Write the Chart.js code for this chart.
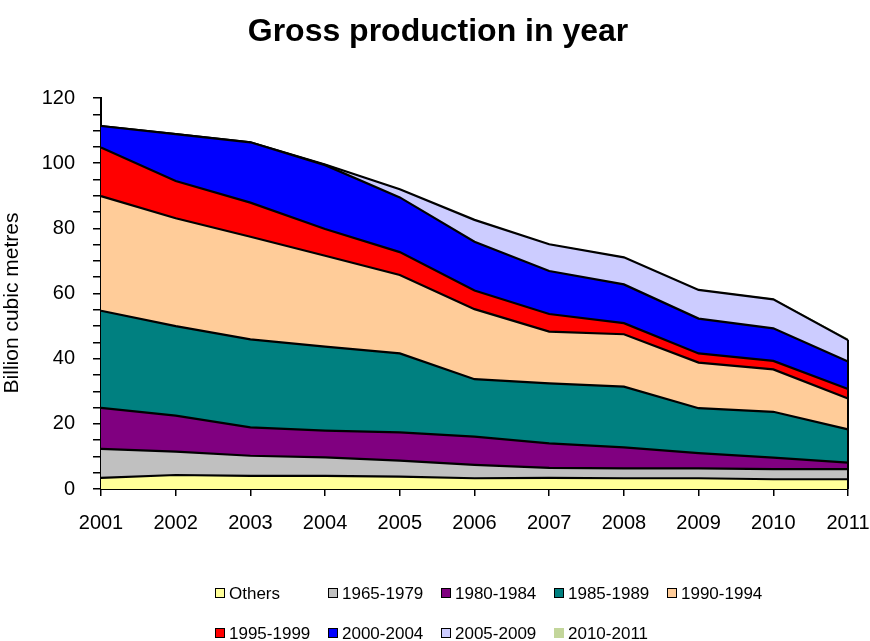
<!DOCTYPE html>
<html>
<head>
<meta charset="utf-8">
<script src="https://cdn.jsdelivr.net/npm/chart.js@4/dist/chart.umd.min.js"></script>
<style>
  body { margin: 0; background: #fff; }
  #wrap { width: 870px; height: 641px; position: relative; }
</style>
</head>
<body>
<div id="wrap"><canvas id="grafico"></canvas></div>
<script>
const anos = ["2001", "2002", "2003", "2004", "2005", "2006", "2007", "2008", "2009", "2010", "2011"];

// valores por faixa (empilhados)
const others   = [3.4, 4.3, 4.0, 4.0, 3.8, 3.3, 3.4, 3.3, 3.3, 3.0, 3.0];
const f1965_79 = [8.9, 7.2, 6.2, 5.7, 4.9, 4.1, 3.1, 3.0, 3.0, 3.1, 3.1];
const f1980_84 = [12.6, 11.0, 8.7, 8.2, 8.7, 8.7, 7.5, 6.5, 4.7, 3.5, 2.0];
const f1985_89 = [29.8, 27.5, 27.0, 25.8, 24.2, 17.6, 18.4, 18.6, 13.8, 14.1, 10.2];
const f1990_94 = [35.2, 33.1, 31.5, 27.9, 24.1, 21.5, 15.9, 16.1, 14.0, 13.0, 9.5];
const f1995_99 = [14.9, 11.4, 10.5, 8.2, 7.0, 5.7, 5.4, 3.4, 2.8, 2.6, 2.9];
const f2000_04 = [6.6, 14.4, 18.5, 19.6, 16.8, 15.0, 13.2, 11.9, 10.7, 10.0, 8.4];
const f2005_09 = [0, 0, 0, 0.2, 2.5, 6.7, 8.2, 8.3, 8.8, 8.9, 6.6];
const f2010_11 = [0, 0, 0, 0, 0, 0, 0, 0, 0, 0.1, 0.3];

const series = [
    { nome: "Others",    dados: others,   cor: "#FFFF99" },
    { nome: "1965-1979", dados: f1965_79, cor: "#C0C0C0" },
    { nome: "1980-1984", dados: f1980_84, cor: "#800080" },
    { nome: "1985-1989", dados: f1985_89, cor: "#008080" },
    { nome: "1990-1994", dados: f1990_94, cor: "#FFCC99" },
    { nome: "1995-1999", dados: f1995_99, cor: "#FF0000" },
    { nome: "2000-2004", dados: f2000_04, cor: "#0000FF" },
    { nome: "2005-2009", dados: f2005_09, cor: "#CCCCFF" },
    { nome: "2010-2011", dados: f2010_11, cor: "#C3D69B", semBorda: true }
];

const titulo = "Gross production in year";
const tituloEixo = "Billion cubic metres";
const fonte = "'Liberation Sans', Arial, sans-serif";

// titulo, legenda em grade, titulo do eixo y e borda direita da area
const extras = {
    id: "extras",
    afterDatasetsDraw(chart) {
        // contorno vertical no ultimo ano, como no Excel
        const ctx = chart.ctx;
        const ult = anos.length - 1;
        const total = series.slice(0, 8).reduce((s, se) => s + se.dados[ult], 0);
        const x = chart.scales.x.getPixelForValue(ult);
        ctx.save();
        ctx.strokeStyle = "#000";
        ctx.lineWidth = 2;
        ctx.beginPath();
        ctx.moveTo(x, chart.scales.y.getPixelForValue(0));
        ctx.lineTo(x, chart.scales.y.getPixelForValue(total));
        ctx.stroke();
        ctx.restore();
    },
    afterDraw(chart) {
        const ctx = chart.ctx;
        ctx.save();
        ctx.fillStyle = "#000";
        ctx.font = "bold 32px " + fonte;
        ctx.textAlign = "center";
        ctx.textBaseline = "middle";
        ctx.fillText(titulo, 438, 32);
        ctx.restore();

        ctx.save();
        ctx.fillStyle = "#000";
        ctx.font = "21px " + fonte;
        ctx.textAlign = "center";
        ctx.textBaseline = "middle";
        ctx.translate(12, 303);
        ctx.rotate(-Math.PI / 2);
        ctx.fillText(tituloEixo, 0, 0);
        ctx.restore();

        ctx.save();
        ctx.font = "17px " + fonte;
        ctx.textBaseline = "middle";
        series.forEach((s, i) => {
            const col = i < 5 ? i : i - 5;
            const lin = i < 5 ? 0 : 1;
            const x = 215 + col * 113;
            const y = lin === 0 ? 593 : 633;
            ctx.fillStyle = s.cor;
            ctx.fillRect(x, y - 5, 10, 10);
            if (!s.semBorda) {
                ctx.strokeStyle = "#000";
                ctx.lineWidth = 1;
                ctx.strokeRect(x + 0.5, y - 4.5, 9, 9);
            }
            ctx.fillStyle = "#000";
            ctx.fillText(s.nome, x + 14, y + 1);
        });
        ctx.restore();
    }
};

const datasets = series.map((s, i) => ({
    label: s.nome,
    data: s.dados,
    backgroundColor: s.cor,
    borderColor: s.semBorda ? "#8E9C74" : "#000",
    borderWidth: s.semBorda ? 1 : 2.2,
    pointRadius: 0,
    tension: 0,
    fill: i === 0 ? "origin" : "-1"
}));

new Chart(document.getElementById("grafico"), {
    type: "line",
    data: { labels: anos, datasets: datasets },
    options: {
        responsive: true,
        maintainAspectRatio: false,
        animation: false,
        layout: { padding: { left: 0, right: 0, top: 98, bottom: 0 } },
        plugins: {
            legend: { display: false },
            tooltip: { enabled: false },
            title: { display: false }
        },
        scales: {
            x: {
                offset: false,
                grid: { drawOnChartArea: false, drawTicks: true, tickLength: 7, color: "#000", lineWidth: 1.5 },
                border: { display: true, color: "#000", width: 2 },
                ticks: { color: "#000", font: { family: fonte, size: 20 }, padding: 15, maxRotation: 0, autoSkip: false },
                afterFit(scale) {
                    scale.height = 152;
                    scale.paddingLeft = 0;
                    scale.paddingRight = 22;
                }
            },
            y: {
                stacked: true,
                min: 0,
                max: 120,
                grid: { drawOnChartArea: false, drawTicks: true, tickLength: 8, color: "#000", lineWidth: 1.5 },
                border: { display: true, color: "#000", width: 2 },
                ticks: {
                    stepSize: 5,
                    autoSkip: false,
                    color: "#000",
                    padding: 18,
                    font: { family: fonte, size: 20 },
                    callback: v => (v % 20 === 0 ? v : "")
                },
                afterFit(scale) { scale.width = 101; }
            }
        }
    },
    plugins: [extras]
});
</script>
</body>
</html>
